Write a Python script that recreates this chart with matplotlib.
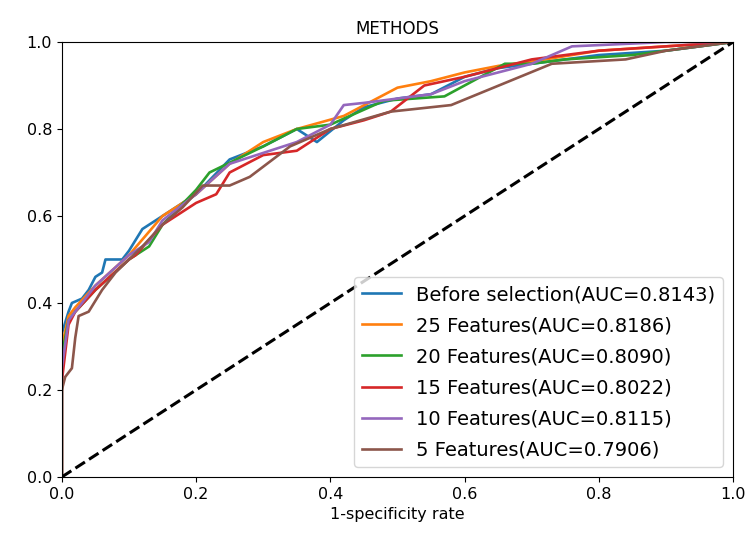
import numpy as np
from matplotlib import pyplot as plt

plt.rcParams['font.size'] = 11.5
plt.rcParams['lines.linewidth'] = 1.9

labels = ['Before selection(AUC=0.8143)', '25 Features(AUC=0.8186)', '20 Features(AUC=0.8090)',
          '15 Features(AUC=0.8022)', '10 Features(AUC=0.8115)', '5 Features(AUC=0.7906)']

fpr_before = [0, 0, 0.01, 0.015, 0.03, 0.04, 0.05, 0.06, 0.065, 0.09, 0.1, 0.12, 0.15, 0.2, 0.25, 0.3, 0.35,
              0.38, 0.42, 0.45, 0.5, 0.55, 0.6, 0.65, 0.7, 0.8, 0.9, 1]
tpr_before = [0, 0.33, 0.38, 0.40, 0.41, 0.43, 0.46, 0.47, 0.50, 0.50, 0.52, 0.57, 0.60, 0.65, 0.73, 0.76, 0.80,
              0.77, 0.82, 0.85, 0.87, 0.88, 0.92, 0.94, 0.95, 0.97, 0.98, 1]

fpr_25 = [0, 0, 0.01, 0.02, 0.05, 0.1, 0.15, 0.2, 0.25, 0.3, 0.35, 0.42, 0.5, 0.55, 0.6, 0.65, 0.7, 0.8, 0.9, 1]
tpr_25 = [0, 0.30, 0.37, 0.39, 0.44, 0.51, 0.60, 0.65, 0.72, 0.77, 0.80, 0.83, 0.895, 0.91, 0.93, 0.945, 0.955,
          0.98, 0.99, 1]

fpr_20 = [0, 0, 0.01, 0.02, 0.05, 0.1, 0.13, 0.15, 0.2, 0.22, 0.3, 0.35, 0.4, 0.48, 0.57, 0.66, 0.7,
          0.75, 0.85, 0.9, 1]
tpr_20 = [0, 0.28, 0.36, 0.38, 0.43, 0.50, 0.53, 0.58, 0.66, 0.70, 0.76, 0.80, 0.81, 0.865, 0.875, 0.95, 0.95,
          0.96, 0.97, 0.98, 1]

fpr_15 = [0, 0, 0.01, 0.02, 0.05, 0.1, 0.11, 0.15, 0.2, 0.23, 0.25, 0.3, 0.35, 0.4, 0.45, 0.49, 0.54, 0.6,
          0.65, 0.7, 0.8, 0.9, 1]
tpr_15 = [0, 0.22, 0.35, 0.38, 0.43, 0.50, 0.51, 0.58, 0.63, 0.65, 0.70, 0.74, 0.75, 0.80, 0.82, 0.84, 0.90,
          0.92, 0.94, 0.96, 0.98, 0.99, 1]

fpr_10 = [0, 0, 0.01, 0.02, 0.05, 0.1, 0.13, 0.15, 0.2, 0.25, 0.3, 0.35, 0.4, 0.42, 0.45, 0.5, 0.55, 0.6, 0.65,
          0.7, 0.76, 0.9, 1]
tpr_10 = [0, 0.25, 0.36, 0.38, 0.44, 0.51, 0.54, 0.59, 0.65, 0.72, 0.745, 0.77, 0.81, 0.855, 0.86, 0.87, 0.88,
          0.91, 0.93, 0.95, 0.99, 1, 1]

fpr_5 = [0, 0, 0.005, 0.015, 0.02, 0.025, 0.04, 0.06, 0.08, 0.1, 0.12, 0.15, 0.18, 0.21, 0.25, 0.28, 0.34, 0.4,
         0.49, 0.58, 0.73, 0.84, 0.9, 1]
tpr_5 = [0, 0.20, 0.23, 0.25, 0.32, 0.37, 0.38, 0.43, 0.47, 0.50, 0.53, 0.58, 0.62, 0.67, 0.67, 0.69, 0.76, 0.80,
         0.84, 0.855, 0.95, 0.96, 0.98, 1]

curves = [(fpr_before, tpr_before), (fpr_25, tpr_25), (fpr_20, tpr_20),
          (fpr_15, tpr_15), (fpr_10, tpr_10), (fpr_5, tpr_5)]

fig = plt.figure(figsize=(7.45, 5.42), dpi=100)
ax = fig.add_axes([0.083, 0.12, 0.901, 0.8025])

for (fpr, tpr), lab in zip(curves, labels):
    ax.plot(fpr, tpr, label=lab)

ax.plot([0, 1], [0, 1], 'k--', linewidth=2.2)

ax.set_xlim(0, 1)
ax.set_ylim(0, 1)
ax.set_title('METHODS', fontsize=12)
ax.set_xlabel('1-specificity rate', fontsize=11.5)
ax.legend(loc='lower right', fontsize=14, labelspacing=0.62)

plt.savefig('out.png', dpi=100)
